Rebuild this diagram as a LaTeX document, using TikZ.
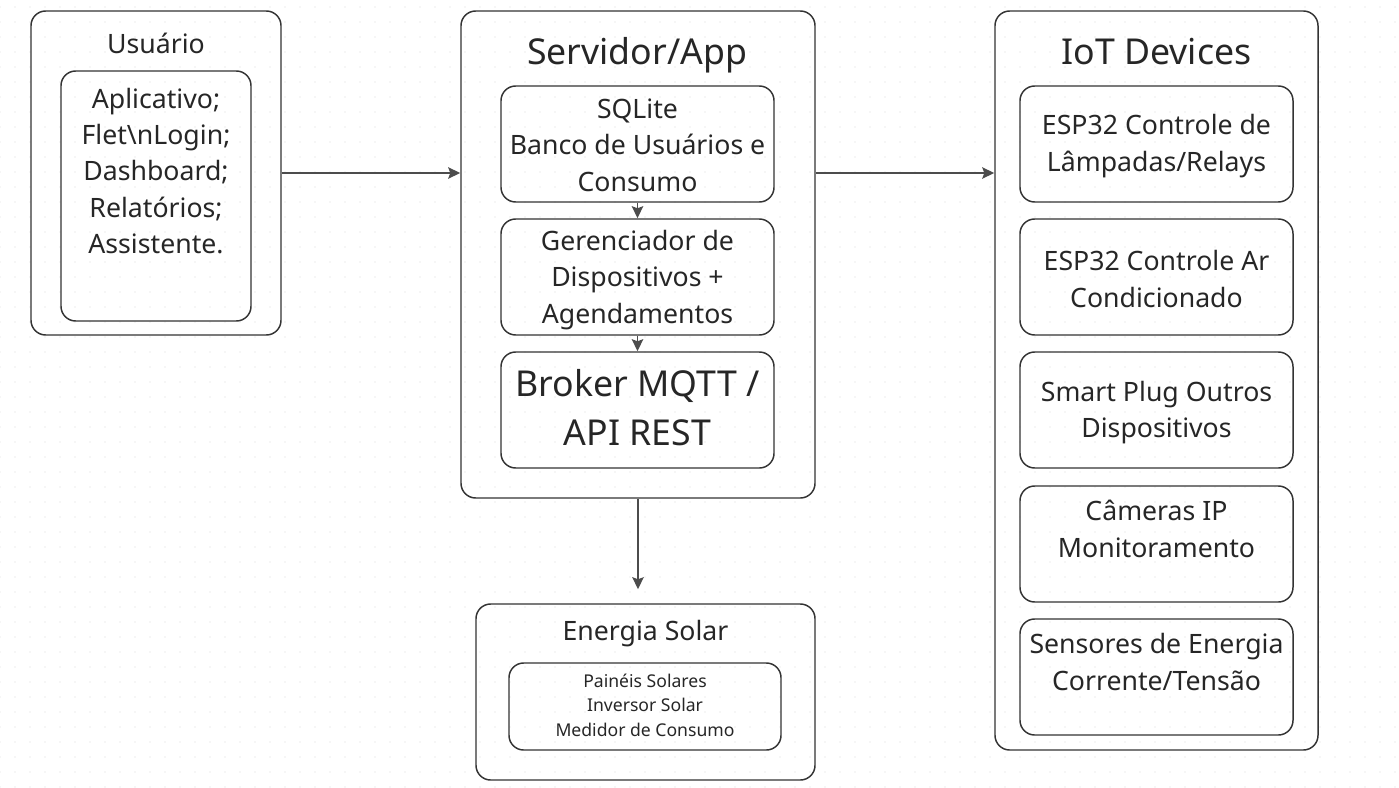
\documentclass[tikz,border=0pt]{standalone}
\usepackage{fontspec}
\setmainfont{Noto Sans}
\usetikzlibrary{arrows.meta}

\begin{document}
\begin{tikzpicture}[x=0.75pt,y=-0.75pt,
  box/.style={draw=black!80, line width=1.1pt, rounded corners=11pt, inner sep=0pt},
  txt/.style={align=center, inner sep=0pt, text=black!85, font=\fontsize{20}{27.3}\selectfont},
  big/.style={txt, font=\fontsize{26.75}{36.75}\selectfont},
  small/.style={txt, font=\fontsize{13.2}{18.4}\selectfont},
  link/.style={draw=black!70, line width=1.4pt, -{Stealth[length=9pt,width=8.5pt,inset=1.5pt]}}]
\useasboundingbox (0,0) rectangle (1399,788);
%dotted background
\foreach \gx in {0,15,...,1395}
  \foreach \gy in {7,22,...,787}
    \fill[black!16] (\gx,\gy) circle (0.45pt);

%user block
\node[box, minimum width=187.5pt, minimum height=243pt] (usr) at (156,173) {};
\node[txt] (usrT) at (156,43) {Usuário};
\node[box, minimum width=142.5pt, minimum height=187.5pt] (app) at (156,196) {};
\node[txt] (appT) at (156,171) {Aplicativo;\\Flet\textbackslash nLogin;\\Dashboard;\\Relatórios;\\Assistente.};

%server block
\node[box, minimum width=265.5pt, minimum height=365.25pt] (srv) at (638,254.5) {};
\node[big] (srvT) at (637,55) {Servidor/App};
\node[box, minimum width=204.75pt, minimum height=87pt] (sql) at (637.5,144) {};
\node[txt] (sqlT) at (637.5,145) {SQLite\\Banco de Usuários e\\Consumo};
\node[box, minimum width=204.75pt, minimum height=87pt] (ger) at (637.5,277) {};
\node[txt] (gerT) at (637.5,280) {Gerenciador de\\Dispositivos +\\Agendamentos};
\node[box, minimum width=204.75pt, minimum height=87pt] (brk) at (637.5,410) {};
\node[big] (brkT) at (637.5,407.5) {Broker MQTT /\\API REST};

%solar block
\node[box, minimum width=254.25pt, minimum height=132pt] (sol) at (645.5,692) {};
\node[txt] (solT) at (645.5,634) {Energia Solar};
\node[box, minimum width=204pt, minimum height=65.25pt] (pan) at (645,706.5) {};
\node[small] (panT) at (645,705) {Painéis Solares\\Inversor Solar\\Medidor de Consumo};

%iot block
\node[box, minimum width=242.25pt, minimum height=554.25pt] (iot) at (1156.5,380.5) {};
\node[big] (iotT) at (1156.5,52) {IoT Devices};
\foreach \by/\ty/\lbl [count=\i] in {144/146/{ESP32 Controle de\\Lâmpadas/Relays},
    277/279/{ESP32 Controle Ar\\Condicionado},
    410/412.5/{Smart Plug Outros\\Dispositivos},
    544/529/{Câmeras IP\\Monitoramento},
    677/662/{Sensores de Energia\\Corrente/Tensão}}
{
  \node[box, minimum width=204.75pt, minimum height=87pt] (dev\i) at (1156.5,\by) {};
  \node[txt] (devT\i) at (1156.5,\ty) {\lbl};
}

%connectors
\coordinate (solin) at ([yshift=10.5pt]sol.north);
\draw[link] (usr.east) -- (usr.east -| srv.west);
\draw[link] (srv.east |- usr.east) -- (iot.west |- usr.east);
\draw[link] (sql.south) -- (ger.north);
\draw[link] (ger.south) -- (brk.north);
\draw[link] (srv.south) -- (srv.south |- solin);
\end{tikzpicture}
\end{document}
